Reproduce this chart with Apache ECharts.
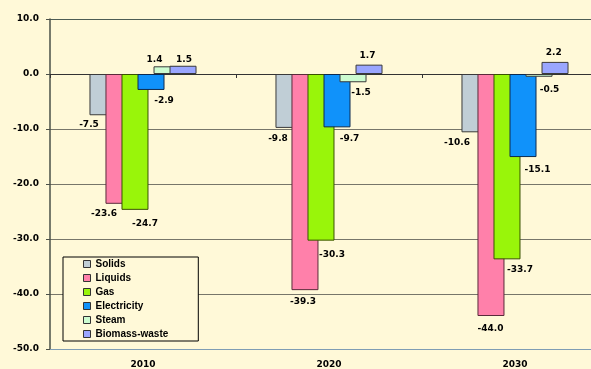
<!DOCTYPE html>
<html>
<head>
<meta charset="utf-8">
<script src="https://cdn.jsdelivr.net/npm/echarts@6/dist/echarts.min.js"></script>
<style>
  html, body { margin: 0; padding: 0; background: #fff9d8; }
  #chart { width: 591px; height: 369px; }
</style>
</head>
<body>
<div id="chart"></div>
<script>
// Change by energy carrier, per year
const years = ['2010', '2020', '2030'];
const solids      = [-7.5,  -9.8,  -10.6];
const liquids     = [-23.6, -39.3, -44.0];
const gas         = [-24.7, -30.3, -33.7];
const electricity = [-2.9,  -9.7,  -15.1];
const steam       = [1.4,   -1.5,  -0.5];
const biomass     = [1.5,   1.7,   2.2];
const yTicks = { min: -50, max: 10, step: 10 };

// label nudges [dx, dy] for each value label
const nudges = {
  solids:      [[-14, 0], [-11, 1.5], [-18, 0.5]],
  liquids:     [[-15, 0], [-2, 2],    [-0.5, 3.5]],
  gas:         [[10, 4],  [11, 5],    [13, 1]],
  electricity: [[13, 1],  [12.5, 2],  [14.5, 3]],
  steam:       [[-12.5, 3], [8, 0.5], [10.5, 3]],
  biomass:     [[1, 3],   [-1.5, 1],  [-1.3, 0]]
};

const numFont = { fontFamily: 'DejaVu Sans', fontWeight: 'bold', fontSize: 9, color: '#000' };

function makeSeries(name, values, key, fill, edge) {
  return {
    name: name,
    type: 'bar',
    xAxisIndex: 0,
    barWidth: 27,
    barGap: '-40.7%',
    itemStyle: { color: fill, borderColor: edge, borderWidth: 1 },
    data: values.map(function (v, i) {
      return {
        value: v,
        label: {
          show: true,
          position: v < 0 ? 'bottom' : 'top',
          distance: 5,
          offset: nudges[key][i],
          formatter: function (p) { return p.value.toFixed(1); },
          fontFamily: numFont.fontFamily,
          fontWeight: numFont.fontWeight,
          fontSize: numFont.fontSize,
          color: numFont.color
        }
      };
    })
  };
}

const chart = echarts.init(document.getElementById('chart'), null, { renderer: 'canvas' });
chart.setOption({
  backgroundColor: '#fff9d8',
  animation: false,
  // plot area runs past the right edge of the canvas
  grid: { left: 50, right: -17, top: 19, bottom: 20, containLabel: false, outerBoundsMode: 'none' },
  legend: {
    orient: 'vertical',
    left: 63,
    top: 257,
    padding: [2, 30, 2, 20],
    itemWidth: 7,
    itemHeight: 7,
    itemGap: 4,
    icon: 'rect',
    borderColor: '#000',
    borderWidth: 1,
    backgroundColor: '#fff9d8',
    itemStyle: { borderColor: '#333', borderWidth: 1 },
    textStyle: { fontFamily: 'Liberation Sans', fontWeight: 'bold', fontSize: 10, lineHeight: 10, color: '#000' },
    data: ['Solids', 'Liquids', 'Gas', 'Electricity', 'Steam', 'Biomass-waste']
  },
  xAxis: [
    {
      type: 'category',
      data: years,
      axisLine: { onZero: true, lineStyle: { color: '#333', width: 1 } },
      axisTick: { show: true, length: 4, lineStyle: { color: '#333' } },
      axisLabel: { show: false },
      splitLine: { show: false }
    },
    {
      type: 'category',
      data: years,
      position: 'bottom',
      axisLine: { onZero: false, lineStyle: { color: '#7f9db4', width: 1 } },
      axisTick: { show: false },
      axisLabel: { show: true, margin: 11, fontFamily: 'DejaVu Sans', fontWeight: 'bold', fontSize: 9, color: '#000' },
      splitLine: { show: false }
    }
  ],
  yAxis: {
    type: 'value',
    min: yTicks.min,
    max: yTicks.max,
    interval: yTicks.step,
    axisLine: { show: true, lineStyle: { color: '#4a5048', width: 1.5 } },
    axisTick: { show: true, length: 4, lineStyle: { color: '#4a5048' } },
    axisLabel: {
      margin: 11,
      formatter: function (v) { return v.toFixed(1); },
      fontFamily: 'DejaVu Sans', fontWeight: 'bold', fontSize: 9, color: '#000'
    },
    splitLine: {
      show: true,
      lineStyle: {
        color: ['#7f9db4', '#77766a', '#77766a', '#77766a', '#77766a', '#333333', '#4d5d55'],
        width: 1
      }
    }
  },
  series: [
    makeSeries('Solids', solids, 'solids', '#c0ced6', '#3a3a3a'),
    makeSeries('Liquids', liquids, 'liquids', '#ff80aa', '#5a2a3a'),
    makeSeries('Gas', gas, 'gas', '#99f50a', '#3a5200'),
    makeSeries('Electricity', electricity, 'electricity', '#1092fa', '#0c2a50'),
    makeSeries('Steam', steam, 'steam', '#ccfcd0', '#3a3a3a'),
    makeSeries('Biomass-waste', biomass, 'biomass', '#9aa6ff', '#3a3a3a')
  ]
});
</script>
</body>
</html>
